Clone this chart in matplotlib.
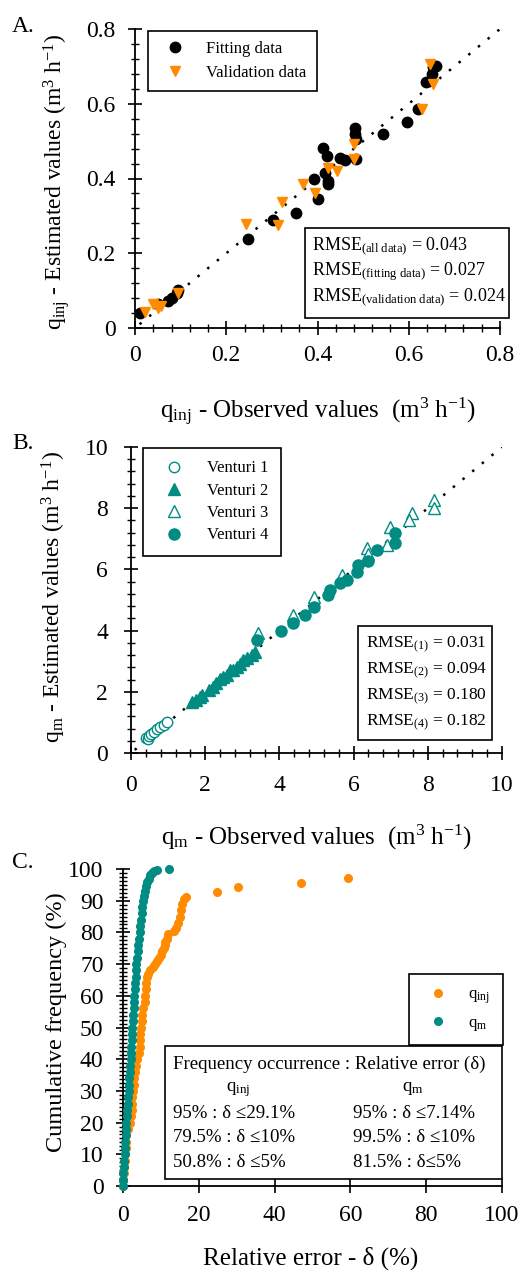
import matplotlib
matplotlib.use('Agg')
import matplotlib.pyplot as plt
from matplotlib.patches import Rectangle
from matplotlib.ticker import MultipleLocator, FixedLocator

plt.rcParams['font.family'] = ['Liberation Serif', 'DejaVu Serif']
plt.rcParams['mathtext.fontset'] = 'custom'
plt.rcParams['mathtext.rm'] = 'Liberation Serif'
plt.rcParams['mathtext.it'] = 'Liberation Serif:italic'
plt.rcParams['mathtext.bf'] = 'Liberation Serif:bold'

ORANGE = '#FF8C00'
TEAL = '#008C82'

# ---- panel A: q_inj estimated vs observed
fit_obs = [0.011, 0.051, 0.073, 0.080, 0.091, 0.095, 0.248, 0.302, 0.353, 0.393,
           0.400, 0.411, 0.416, 0.420, 0.422, 0.424, 0.449, 0.460, 0.482, 0.482,
           0.484, 0.484, 0.544, 0.597, 0.621, 0.638, 0.654, 0.660, 0.650]
fit_est = [0.040, 0.063, 0.072, 0.080, 0.094, 0.103, 0.237, 0.290, 0.308, 0.400,
           0.346, 0.481, 0.416, 0.460, 0.393, 0.384, 0.454, 0.450, 0.536, 0.518,
           0.505, 0.451, 0.518, 0.551, 0.587, 0.657, 0.697, 0.702, 0.679]
val_obs = [0.022, 0.040, 0.051, 0.057, 0.095, 0.244, 0.314, 0.323, 0.369, 0.395,
           0.424, 0.442, 0.481, 0.481, 0.628, 0.647, 0.654]
val_est = [0.042, 0.063, 0.054, 0.058, 0.094, 0.277, 0.275, 0.338, 0.384, 0.362,
           0.429, 0.420, 0.492, 0.451, 0.587, 0.706, 0.653]
line_a = [0.01, 0.8]
rmse_a_names = ['all data', 'fitting data', 'validation data']
rmse_a_values = [0.043, 0.027, 0.024]

# ---- panel B: q_m estimated vs observed, four venturis
v1_obs = [0.40, 0.45, 0.48, 0.55, 0.62, 0.70, 0.78, 0.88, 0.97]
v1_est = [0.48, 0.45, 0.55, 0.62, 0.70, 0.78, 0.85, 0.93, 1.02]
v2_obs = [1.65, 1.75, 1.85, 1.91, 2.10, 2.22, 2.30, 2.40, 2.49, 2.58, 2.67, 2.75,
          2.85, 2.95, 3.03, 3.12, 3.25, 3.35]
v2_est = [1.66, 1.72, 1.83, 1.90, 2.07, 2.17, 2.28, 2.42, 2.49, 2.55, 2.71, 2.72,
          2.82, 2.90, 3.04, 3.10, 3.20, 3.30]
v3_obs = [3.43, 4.38, 4.92, 5.68, 6.36, 6.40, 6.99, 6.90, 7.57, 7.50, 8.16, 8.16]
v3_est = [3.91, 4.51, 5.11, 5.82, 6.69, 6.50, 7.40, 6.80, 7.84, 7.60, 8.28, 8.00]
v4_obs = [3.39, 4.05, 4.38, 4.69, 4.92, 5.32, 5.37, 5.64, 5.82, 6.09, 6.13, 6.40,
          6.63, 7.12, 7.12]
v4_est = [3.69, 4.00, 4.24, 4.51, 4.78, 5.16, 5.33, 5.55, 5.66, 5.93, 6.15, 6.26,
          6.64, 7.18, 6.86]
line_b = [0.1, 10]
rmse_b_values = [0.031, 0.094, 0.180, 0.182]

# ---- panel C: cumulative frequency of relative error
qm_err = [0.0, 0.0, 0.1, 0.2, 0.3, 0.4, 0.5, 0.6, 0.7, 0.8, 0.9, 1.0, 1.1, 1.2,
          1.3, 1.5, 1.6, 1.7, 1.8, 1.9, 2.0, 2.1, 2.2, 2.3, 2.4, 2.5, 2.6, 2.7,
          2.8, 2.9, 3.0, 3.1, 3.2, 3.3, 3.4, 3.5, 3.7, 3.9, 4.0, 4.2, 4.4, 4.5,
          4.7, 4.9, 5.1, 5.3, 5.5, 5.8, 6.1, 6.4, 6.8, 7.2, 7.7, 8.3, 8.9, 12.2]
qm_freq = [0, 2, 4, 6, 8, 10, 12, 14, 16, 18, 20, 22, 24, 26,
           28, 30, 32, 34, 36, 38, 40, 42, 44, 46, 48, 50, 52, 54,
           56, 58, 60, 62, 64, 66, 68, 70, 72, 74, 76, 78, 80, 82,
           84, 86, 88, 90, 91.5, 93, 94.5, 96, 97, 98, 98.8, 99.3, 99.7, 100]
qinj_err = [0.1, 0.1, 0.2, 0.3, 0.4, 0.5, 0.7, 0.8, 0.9, 1.2, 1.8, 2.1, 2.3, 2.4,
            2.5, 2.6, 2.8, 3.0, 3.2, 3.5, 3.8, 4.1, 4.4, 4.5, 4.6, 4.8, 4.9, 5.1,
            5.4, 5.7, 5.9, 6.0, 6.2, 6.4, 6.7, 7.2, 7.8, 8.5, 9.0, 9.5, 9.9, 10.3,
            10.7, 11.0, 11.2, 11.5, 11.8, 13.5, 14.0, 14.5, 15.0, 15.3, 15.6, 16.0,
            16.5, 24.7, 30.4, 47.0, 59.3]
qinj_freq = [0, 2, 4, 6, 8, 10, 12, 14, 16, 18, 20, 22, 24, 26,
             28, 30, 32, 34, 36, 38, 40, 42, 44, 46, 48, 50, 52, 54,
             56, 58, 60, 62, 64, 66, 67, 68, 69, 70, 71, 72, 73, 74,
             75, 76, 77, 78, 79.5, 80.5, 81.5, 83, 85, 87, 89, 90.5,
             91.3, 92.6, 94.2, 95.7, 97.2]
c_yticks = [0, 10, 20, 30, 40, 50, 60, 70, 80, 90, 100]
c_ylabels = ['0', '10', '20', '30', '40', '50', '60', '70', '80', '90', '100']
freq_rows = [('95% : δ ≤29.1%', '95% : δ ≤7.14%'),
             ('79.5% : δ ≤10%', '99.5% : δ ≤10%'),
             ('50.8% : δ ≤5%', '81.5% : δ≤5%')]

W, H = 520, 1271


def fx(x):
    return x / W


def fy(y):
    return 1 - y / H


def axes_box(left, top, right, bottom):
    return [fx(left), fy(bottom), (right - left) / W, (bottom - top) / H]


def style_axis(ax, xpad, ypad):
    for s in ['top', 'right']:
        ax.spines[s].set_visible(False)
    for s in ['left', 'bottom']:
        ax.spines[s].set_linewidth(1.3)
    ax.tick_params(which='major', direction='inout', length=10, width=1.2, labelsize=17)
    ax.tick_params(which='minor', direction='inout', length=6, width=1.0)
    ax.tick_params(axis='x', pad=xpad)
    ax.tick_params(axis='y', pad=ypad)


def framed_box(fig, left, top, right, bottom):
    fig.add_artist(Rectangle((fx(left), fy(bottom)), (right - left) / W, (bottom - top) / H,
                             transform=fig.transFigure, facecolor='white',
                             edgecolor='black', linewidth=1.2, zorder=3))


fig = plt.figure(figsize=(W / 100, H / 100), dpi=100)

# ================= A =================
ax = fig.add_axes(axes_box(135, 29, 500, 328))
ax.plot(line_a, line_a, color='black', linestyle=(0, (1, 4)), linewidth=1.8, zorder=1)
ax.plot(fit_obs, fit_est, 'o', color='black', markersize=7.5, label='Fitting data',
        clip_on=False, zorder=2)
ax.plot(val_obs, val_est, 'v', color=ORANGE, markersize=7.5, label='Validation data',
        clip_on=False, zorder=3)
ax.set_xlim(0, 0.8)
ax.set_ylim(0, 0.8)
ax.xaxis.set_minor_locator(MultipleLocator(0.04))
ax.yaxis.set_minor_locator(MultipleLocator(0.04))
ax.set_xticks([0, 0.2, 0.4, 0.6, 0.8], ['0', '0.2', '0.4', '0.6', '0.8'])
ax.set_yticks([0, 0.2, 0.4, 0.6, 0.8], ['0', '0.2', '0.4', '0.6', '0.8'])
style_axis(ax, 7, 9)
ax.set_ylabel(r'q$_{\rm inj}$ - Estimated values (m$^{3}$ h$^{-1}$)', fontsize=17)
ax.set_xlabel(r'q$_{\rm inj}$ - Observed values  (m$^{3}$ h$^{-1}$)', fontsize=18)
ax.yaxis.set_label_coords(-0.173, 0.49)
ax.xaxis.set_label_coords(0.5, -0.225)
leg = ax.legend(loc='upper left', bbox_to_anchor=(0.036, 0.993), frameon=True,
                fancybox=False, edgecolor='black', fontsize=12, borderaxespad=0,
                borderpad=0.6, handlelength=2.0, handletextpad=0.9, labelspacing=0.45,
                numpoints=1, framealpha=1)
leg.get_frame().set_linewidth(1.2)

framed_box(fig, 305, 228, 509, 318)
for i, (name, val) in enumerate(zip(rmse_a_names, rmse_a_values)):
    label = name.replace(' ', r'\ ')
    fig.text(fx(312), fy(250 + 25.5 * i), rf'RMSE$_{{\rm ({label})}}$ = {val:.3f}',
             fontsize=13, va='baseline', zorder=4)

# ================= B =================
ax = fig.add_axes(axes_box(131, 447, 502, 753))
ax.plot(line_b, line_b, color='black', linestyle=(0, (1, 4)), linewidth=1.8, zorder=1)
ax.plot(v1_obs, v1_est, 'o', markerfacecolor='white', markeredgecolor=TEAL,
        markeredgewidth=1.0, markersize=7.5, label='Venturi 1', zorder=2)
ax.plot(v2_obs, v2_est, '^', color=TEAL, markersize=8, label='Venturi 2', zorder=2)
ax.plot(v3_obs, v3_est, '^', markerfacecolor='white', markeredgecolor=TEAL,
        markeredgewidth=1.0, markersize=8, label='Venturi 3', zorder=2)
ax.plot(v4_obs, v4_est, 'o', color=TEAL, markersize=8, label='Venturi 4', zorder=2)
ax.set_xlim(0, 10)
ax.set_ylim(0, 10)
ax.xaxis.set_major_locator(MultipleLocator(2))
ax.yaxis.set_major_locator(MultipleLocator(2))
ax.xaxis.set_minor_locator(MultipleLocator(0.4))
ax.yaxis.set_minor_locator(MultipleLocator(0.4))
style_axis(ax, 11, 11.5)
ax.set_ylabel(r'q$_{\rm m}$ - Estimated values (m$^{3}$ h$^{-1}$)', fontsize=17)
ax.set_xlabel(r'q$_{\rm m}$ - Observed values  (m$^{3}$ h$^{-1}$)', fontsize=18)
ax.yaxis.set_label_coords(-0.170, 0.51)
ax.xaxis.set_label_coords(0.5, -0.229)
leg = ax.legend(loc='upper left', bbox_to_anchor=(0.032, 0.997), frameon=True,
                fancybox=False, edgecolor='black', fontsize=12, borderaxespad=0,
                borderpad=0.75, handlelength=2.2, handletextpad=0.9, labelspacing=0.38,
                numpoints=1, framealpha=1)
leg.get_frame().set_linewidth(1.2)

framed_box(fig, 358, 626, 492, 740)
for i, val in enumerate(rmse_b_values):
    fig.text(fx(366), fy(648 + 26 * i), rf'RMSE$_{{\rm ({i + 1})}}$ = {val:.3f}',
             fontsize=12.5, va='baseline', zorder=4)

# ================= C =================
ax = fig.add_axes(axes_box(123, 869, 502, 1186))
ax.plot(qinj_err, qinj_freq, 'o', color=ORANGE, markersize=5.5, label=r'q$_{\rm inj}$',
        clip_on=False, zorder=2)
ax.plot(qm_err, qm_freq, 'o', color=TEAL, markersize=5.5, label=r'q$_{\rm m}$',
        clip_on=False, zorder=3)
ax.set_xlim(0, 100)
ax.set_ylim(0, 100)
ax.xaxis.set_major_locator(MultipleLocator(20))
ax.yaxis.set_major_locator(FixedLocator(c_yticks))
ax.set_yticklabels(c_ylabels)
ax.yaxis.set_minor_locator(MultipleLocator(1.25))
style_axis(ax, 8.5, 9)
ax.set_ylabel('Cumulative frequency (%)', fontsize=17.5)
ax.set_xlabel('Relative error - δ (%)', fontsize=18)
ax.yaxis.set_label_coords(-0.148, 0.517)
ax.xaxis.set_label_coords(0.496, -0.19)
leg = ax.legend(loc='upper left', bbox_to_anchor=(0.755, 0.669), frameon=True,
                fancybox=False, edgecolor='black', fontsize=12, borderaxespad=0,
                borderpad=0.75, handlelength=2.0, handletextpad=0.8, labelspacing=0.55,
                numpoints=1, framealpha=1)
leg.get_frame().set_linewidth(1.2)

framed_box(fig, 165, 1046, 502, 1179)
fig.text(fx(173), fy(1069), 'Frequency occurrence : Relative error (δ)', fontsize=13.6,
         va='baseline', zorder=4)
fig.text(fx(226), fy(1091), r'q$_{\rm inj}$', fontsize=13.6, va='baseline', zorder=4)
fig.text(fx(402), fy(1091), r'q$_{\rm m}$', fontsize=13.6, va='baseline', zorder=4)
for i, (left_txt, right_txt) in enumerate(freq_rows):
    fig.text(fx(173), fy(1118 + 24.5 * i), left_txt, fontsize=13.6, va='baseline', zorder=4)
    fig.text(fx(353), fy(1118 + 24.5 * i), right_txt, fontsize=13.6, va='baseline', zorder=4)

# panel letters
for letter, ypos in zip(['A.', 'B.', 'C.'], [26, 443, 863]):
    fig.text(fx(12), fy(ypos), letter, fontsize=17, va='center', ha='left')

fig.savefig('out.png', dpi=100)
